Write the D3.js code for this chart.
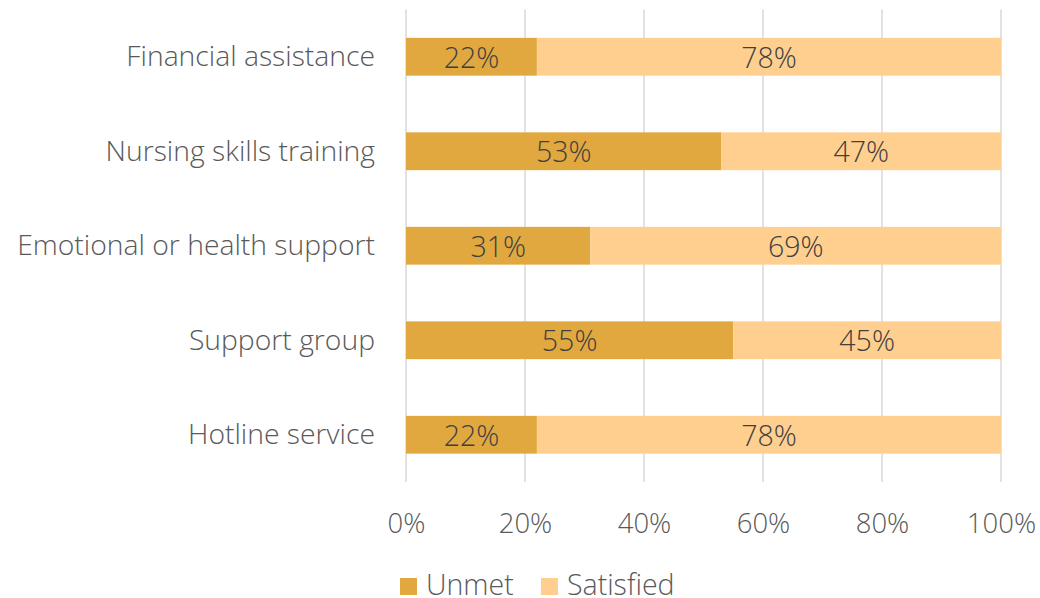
<!DOCTYPE html>
<html><head><meta charset="utf-8">
<script src="https://cdn.jsdelivr.net/npm/d3@7"></script>
<style>body{margin:0;background:#fff;} svg{display:block;font-family:"Open Sans",sans-serif;font-weight:300;}</style>
</head><body>
<svg id="chart" width="1040" height="598"></svg>
<script>
const categories = ["Financial assistance","Nursing skills training","Emotional or health support","Support group","Hotline service"];
const unmet = [22,53,31,55,22];
const satisfied = [78,47,69,45,78];
const seriesNames = ["Unmet","Satisfied"];
const tickValues = [0,20,40,60,80,100];

const colors = {Unmet:"#E2A840", Satisfied:"#FFCF8F"};
const svg = d3.select("#chart");
const x = d3.scaleLinear().domain([0,100]).range([406,1001]);
const y = d3.scaleBand().domain(categories).range([9.5,482]).paddingInner(0.6).paddingOuter(0.3);

// gridlines
svg.append("g").selectAll("line").data(tickValues).join("line")
  .attr("x1",d=>x(d)).attr("x2",d=>x(d)).attr("y1",9.5).attr("y2",482)
  .attr("stroke","#D9D9D9").attr("stroke-width",1.5);

const rows = categories.map((c,i)=>({cat:c, Unmet:unmet[i], Satisfied:satisfied[i]}));
const stack = d3.stack().keys(seriesNames)(rows);

const g = svg.append("g");
stack.forEach(s=>{
  g.selectAll(null).data(s).join("rect")
    .attr("x",d=>x(d[0])).attr("width",d=>x(d[1])-x(d[0]))
    .attr("y",d=>y(d.data.cat)).attr("height",y.bandwidth())
    .attr("fill",colors[s.key]);
  g.selectAll(null).data(s).join("text")
    .attr("x",d=>(x(d[0])+x(d[1]))/2).attr("y",d=>y(d.data.cat)+y.bandwidth()/2+10.8)
    .attr("text-anchor","middle")
    .attr("font-size",28.5).attr("fill","#404040")
    .text(d=>(d[1]-d[0])+"%");
});

// y axis labels
const yAxis = d3.axisLeft(y).tickSize(0).tickPadding(31);
const ya = svg.append("g").attr("transform",`translate(${x(0)},0)`).call(yAxis);
ya.select(".domain").remove();
ya.selectAll("text").attr("font-size",28.3).attr("fill","#595959").attr("font-family","Open Sans").attr("font-weight",300)
  .attr("dy","0").attr("y",9.5);

// x axis
const xAxis = d3.axisBottom(x).tickValues(tickValues).tickFormat(d=>d+"%").tickSize(0);
const xa = svg.append("g").attr("transform",`translate(0,482)`).call(xAxis);
xa.select(".domain").remove();
xa.selectAll("text").attr("font-size",27.5).attr("fill","#595959").attr("font-family","Open Sans").attr("font-weight",300)
  .attr("dy","0").attr("y",51);

// legend
const legX = [400,541];
const lg = svg.append("g");
seriesNames.forEach((n,i)=>{
  lg.append("rect").attr("x",legX[i]).attr("y",578).attr("width",17).attr("height",17).attr("fill",colors[n]);
  lg.append("text").attr("x",legX[i]+26).attr("y",595)
    .attr("font-size",28.5).attr("fill","#595959").text(n);
});
</script>
</body></html>
